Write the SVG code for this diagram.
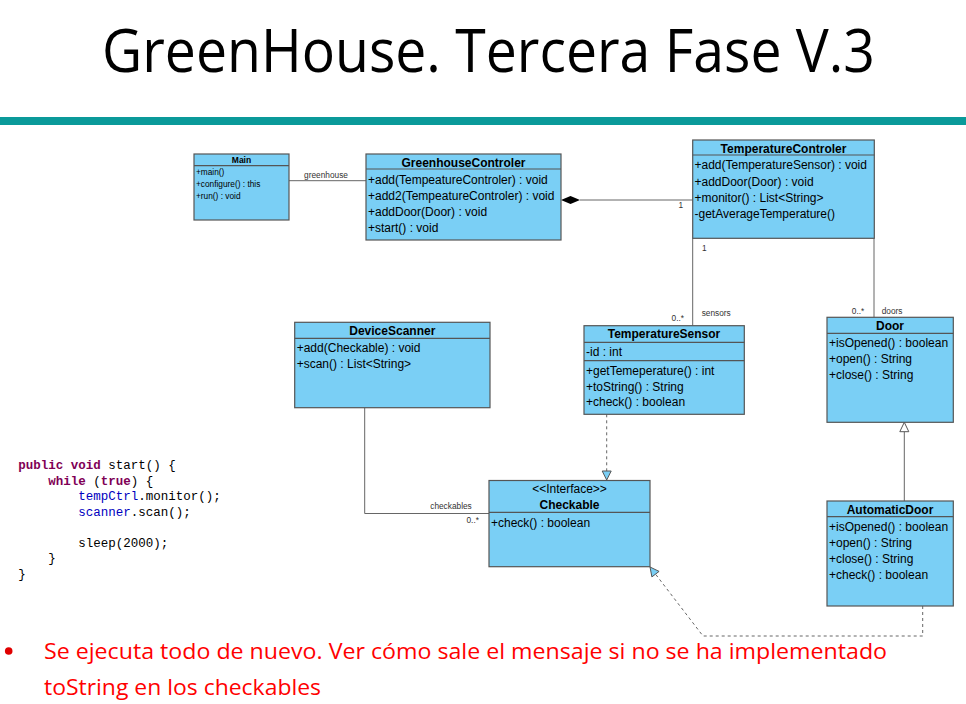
<svg xmlns="http://www.w3.org/2000/svg" width="966" height="704" viewBox="0 0 966 704">
<style>
.box{fill:#7acff5;stroke:#555;stroke-width:1.2}
.sep{stroke:#555;stroke-width:1.2}
.t{font-family:"Liberation Sans",Arial,sans-serif;font-size:12px;fill:#000}
.tb{font-family:"Liberation Sans",Arial,sans-serif;font-size:12px;font-weight:bold;fill:#000;text-anchor:middle}
.s{font-family:"Liberation Sans",Arial,sans-serif;font-size:8.3px;fill:#000}
.sb{font-family:"Liberation Sans",Arial,sans-serif;font-size:8.5px;font-weight:bold;fill:#000;text-anchor:middle}
.lbl{font-family:"Liberation Sans",Arial,sans-serif;font-size:8.3px;fill:#333}
.ln{fill:none;stroke:#666;stroke-width:1}
.dash{fill:none;stroke:#666;stroke-width:1;stroke-dasharray:3 3}
.code{font-family:"Liberation Mono","DejaVu Sans Mono",monospace;font-size:12.5px;fill:#000;white-space:pre}
.kw{fill:#7f0055;font-weight:bold}
.fld{fill:#0000c0}
.red{font-family:"Open Sans","Noto Sans",sans-serif;font-size:21px;fill:#ff0000}
</style>
<rect x="0" y="0" width="966" height="704" fill="#fff"/>
<text x="102" y="72" textLength="773" lengthAdjust="spacingAndGlyphs" style="font-family:'Open Sans','Noto Sans',sans-serif;font-size:60px;fill:#000">GreenHouse. Tercera Fase V.3</text>
<rect x="0" y="117" width="966" height="8" fill="#0a9a9a"/>

<g id="connectors">
<line class="ln" x1="289" y1="180.7" x2="366" y2="180.7"/>
<text class="lbl" x="326" y="178" text-anchor="middle">greenhouse</text>
<line class="ln" x1="580" y1="200" x2="693" y2="200"/>
<polygon points="561,200 570.5,196 580,200 570.5,204" fill="#000"/>
<text class="lbl" x="683" y="208" text-anchor="end">1</text>
<line class="ln" x1="692.7" y1="238.3" x2="692.7" y2="325.7"/>
<text class="lbl" x="702" y="251">1</text>
<text class="lbl" x="684" y="321" text-anchor="end">0..*</text>
<text class="lbl" x="701.7" y="316">sensors</text>
<line class="ln" x1="874" y1="238.3" x2="874" y2="317.3"/>
<text class="lbl" x="864.3" y="314" text-anchor="end">0..*</text>
<text class="lbl" x="881.7" y="314">doors</text>
<polyline class="ln" points="364.7,408 364.7,513.5 489,513.5"/>
<text class="lbl" x="451" y="509" text-anchor="middle">checkables</text>
<text class="lbl" x="466.5" y="523">0..*</text>
<line class="dash" x1="606.7" y1="414.3" x2="606.7" y2="471"/>
<polygon points="606.7,480 602.2,471 611.2,471" fill="#7acff5" stroke="#555" stroke-width="1"/>
<line class="ln" x1="904.3" y1="501" x2="904.3" y2="431.7"/>
<polygon points="904.3,422.3 899.8,431.7 908.8,431.7" fill="#fff" stroke="#555" stroke-width="1"/>
<polyline class="dash" points="922.7,606 922.7,636 703,636 655.5,574.1"/>
<polygon points="650,567 651.9,576.9 659.1,571.4" fill="#7acff5" stroke="#555" stroke-width="1"/>
</g>

<g id="Main">
<rect class="box" x="194" y="154" width="95" height="66"/>
<line class="sep" x1="194" y1="165.7" x2="289" y2="165.7"/>
<text class="sb" x="241.5" y="163">Main</text>
<text class="s" x="196" y="175.3">+main()</text>
<text class="s" x="196" y="187.3">+configure() : this</text>
<text class="s" x="196" y="199">+run() : void</text>
</g>

<g id="GreenhouseControler">
<rect class="box" x="366" y="154" width="195" height="86"/>
<line class="sep" x1="366" y1="169" x2="561" y2="169"/>
<text class="tb" x="463.5" y="166.5">GreenhouseControler</text>
<text class="t" x="368" y="183.5">+add(TempeatureControler) : void</text>
<text class="t" x="368" y="199.5">+add2(TempeatureControler) : void</text>
<text class="t" x="368" y="215.5">+addDoor(Door) : void</text>
<text class="t" x="368" y="231.5">+start() : void</text>
</g>

<g id="TemperatureControler">
<rect class="box" x="692.7" y="140" width="181.6" height="98.3"/>
<line class="sep" x1="692.7" y1="155" x2="874.3" y2="155"/>
<text class="tb" x="783.5" y="152.5">TemperatureControler</text>
<text class="t" x="694.5" y="169">+add(TemperatureSensor) : void</text>
<text class="t" x="694.5" y="185.5">+addDoor(Door) : void</text>
<text class="t" x="694.5" y="201.5">+monitor() : List&lt;String&gt;</text>
<text class="t" x="694.5" y="217.5">-getAverageTemperature()</text>
</g>

<g id="DeviceScanner">
<rect class="box" x="294.7" y="322.3" width="195.3" height="85.4"/>
<line class="sep" x1="294.7" y1="338.3" x2="490" y2="338.3"/>
<text class="tb" x="392.3" y="335">DeviceScanner</text>
<text class="t" x="296.7" y="351.5">+add(Checkable) : void</text>
<text class="t" x="296.7" y="367.5">+scan() : List&lt;String&gt;</text>
</g>

<g id="TemperatureSensor">
<rect class="box" x="584" y="325.7" width="160.3" height="88.6"/>
<line class="sep" x1="584" y1="342.3" x2="744.3" y2="342.3"/>
<line class="sep" x1="584" y1="360.7" x2="744.3" y2="360.7"/>
<text class="tb" x="664" y="338">TemperatureSensor</text>
<text class="t" x="586" y="355.7">-id : int</text>
<text class="t" x="586" y="374.7">+getTemeperature() : int</text>
<text class="t" x="586" y="390.7">+toString() : String</text>
<text class="t" x="586" y="406">+check() : boolean</text>
</g>

<g id="Door">
<rect class="box" x="827" y="317.3" width="126.3" height="105"/>
<line class="sep" x1="827" y1="333.3" x2="953.3" y2="333.3"/>
<text class="tb" x="890" y="330">Door</text>
<text class="t" x="829" y="347.3">+isOpened() : boolean</text>
<text class="t" x="829" y="363.3">+open() : String</text>
<text class="t" x="829" y="379.3">+close() : String</text>
</g>

<g id="Checkable">
<rect class="box" x="489" y="480.5" width="161" height="86.2"/>
<line class="sep" x1="489" y1="512.3" x2="650" y2="512.3"/>
<text class="t" x="569.5" y="493.3" text-anchor="middle">&lt;&lt;Interface&gt;&gt;</text>
<text class="tb" x="569.5" y="509">Checkable</text>
<text class="t" x="491" y="526.5">+check() : boolean</text>
</g>

<g id="AutomaticDoor">
<rect class="box" x="827" y="501" width="126.3" height="105"/>
<line class="sep" x1="827" y1="516.7" x2="953.3" y2="516.7"/>
<text class="tb" x="890" y="513.5">AutomaticDoor</text>
<text class="t" x="829" y="531">+isOpened() : boolean</text>
<text class="t" x="829" y="546.7">+open() : String</text>
<text class="t" x="829" y="562.7">+close() : String</text>
<text class="t" x="829" y="578.7">+check() : boolean</text>
</g>

<g id="code">
<text class="code" x="18.3" y="469"><tspan class="kw">public</tspan> <tspan class="kw">void</tspan> start() {</text>
<text class="code" x="48.3" y="484.5"><tspan class="kw">while</tspan> (<tspan class="kw">true</tspan>) {</text>
<text class="code" x="78.3" y="500"><tspan class="fld">tempCtrl</tspan>.monitor();</text>
<text class="code" x="78.3" y="515.5"><tspan class="fld">scanner</tspan>.scan();</text>
<text class="code" x="78.3" y="546.5">sleep(2000);</text>
<text class="code" x="48.3" y="562">}</text>
<text class="code" x="18.3" y="577.5">}</text>
</g>

<g id="notes">
<circle cx="8.7" cy="651" r="3.8" fill="#e00000"/>
<text class="red" x="44" y="658.5" textLength="843" lengthAdjust="spacingAndGlyphs">Se ejecuta todo de nuevo. Ver cómo sale el mensaje si no se ha implementado</text>
<text class="red" x="44" y="695" textLength="277" lengthAdjust="spacingAndGlyphs">toString en los checkables</text>
</g>
</svg>
